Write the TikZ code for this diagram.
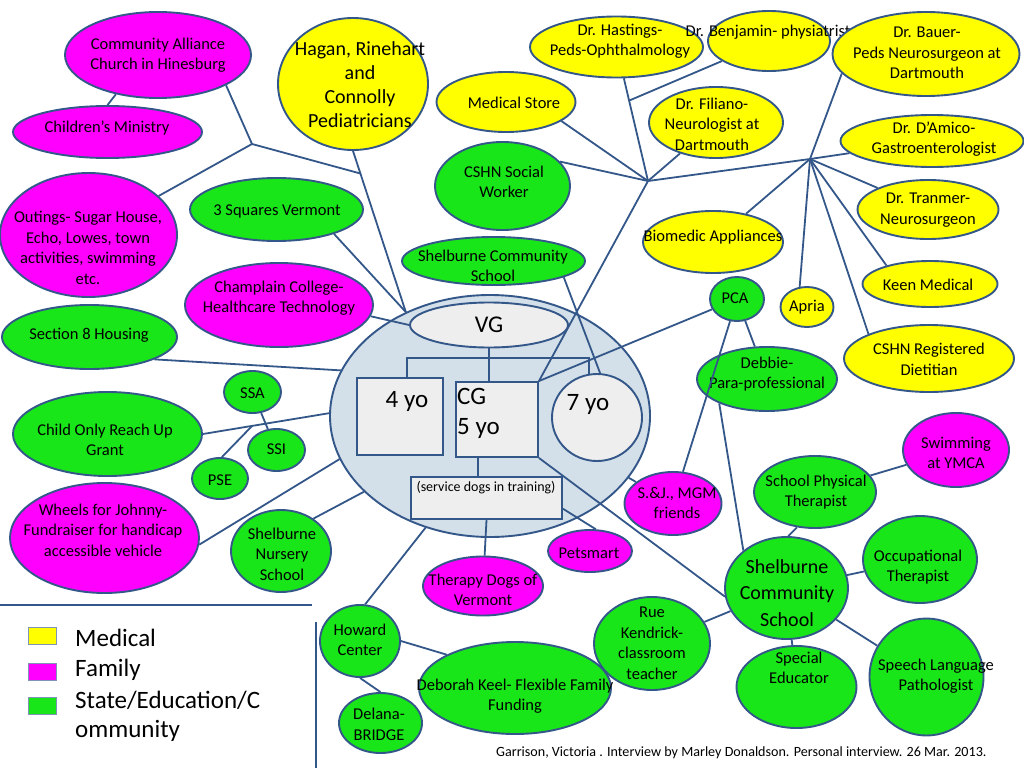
\documentclass[tikz,border=0pt]{standalone}
\usepackage{fontspec}
\setmainfont{Carlito}
\usetikzlibrary{shapes.geometric,calc}
\definecolor{lc}{HTML}{34578A}
\definecolor{yel}{HTML}{FFFF00}
\definecolor{mag}{HTML}{FF00FF}
\definecolor{grn}{HTML}{19E619}
\definecolor{famfill}{HTML}{D3DFE9}
\definecolor{boxfill}{HTML}{EEEEEE}
\definecolor{swb}{HTML}{8095B5}
\newcommand\nf{\fontsize{16.5}{20.5}\selectfont}
\newcommand\bub[9]{%
  \node[bub,fill=#2,minimum width=#5pt,minimum height=#6pt] (#1) at (#3,#4) {};
  \node[txt] (#1t) at (#7,#8) {#9};}
\begin{document}
\begin{tikzpicture}[x=1pt,y=-1pt,
  bub/.style={ellipse,draw=lc,line width=1.9pt,inner sep=0pt},
  txt/.style={inner sep=0pt,align=center,font=\nf},
  box/.style={rectangle,draw=lc,line width=1.9pt,fill=boxfill,inner sep=0pt},
  conn/.style={draw=lc,line width=1.8pt},
  swatch/.style={rectangle,draw=swb,line width=0.8pt,minimum width=28pt,minimum height=17pt,inner sep=0pt},
  lg/.style={inner sep=0pt,anchor=west,align=left,font=\fontsize{25}{31}\selectfont}]
\useasboundingbox (0,0) rectangle (1024,768);
\fill[white] (0,0) rectangle (1024,768);

% family group
\node[bub,fill=famfill,minimum width=320pt,minimum height=242pt] (fam) at (490,416) {};
\node[bub,fill=boxfill,minimum width=158pt,minimum height=45pt] (VG) at (489,325) {};
\node[inner sep=0pt,font=\fontsize{24}{29}\selectfont] (VGt) at (489,325) {VG};
\node[box,minimum width=86pt,minimum height=77pt] (four) at (400,416.5) {};
\node[inner sep=0pt,font=\fontsize{25}{30}\selectfont] (fourt) at (407,401) {4 yo};
\node[box,minimum width=82pt,minimum height=75pt] (CG) at (497,419.5) {};
\node[inner sep=0pt,anchor=west,align=left,font=\fontsize{25}{30}\selectfont] (CGt) at (457,413) {CG\\5 yo};
\node[bub,fill=boxfill,minimum width=90pt,minimum height=87pt] (seven) at (597,417.5) {};
\node[inner sep=0pt,font=\fontsize{25}{30}\selectfont] (sevent) at (588,404) {7 yo};
\node[box,minimum width=151pt,minimum height=42pt] (svc) at (486.5,498) {};
\node[inner sep=0pt,font=\fontsize{14}{17}\selectfont] (svct) at (486,488) {(service dogs in training)};
\coordinate (bar) at (489,358);
\draw[conn] ([xshift=7pt]four.north) |- (bar) -| (seven.100);
\draw[conn] (VG.south) -- (VG.south |- CG.north);
\draw[conn] ([xshift=-19pt]CG.south) -- ([xshift=-19pt]CG.south |- svc.north);

% left side
\bub{church}{mag}{158}{55}{186}{86}{158}{55}{Community Alliance\\Church in Hinesburg}
\bub{cm}{mag}{107.5}{132}{189}{52}{107}{128}{Children's Ministry}
\bub{outings}{mag}{88.5}{235}{177}{124}{88}{248}{Outings- Sugar House,\\Echo, Lowes, town\\activities, swimming\\etc.}
\node[bub,fill=yel,minimum width=150pt,minimum height=132pt] (hagan) at (353,84) {};
\node[txt,font=\fontsize{20}{24}\selectfont] (hagant) at (360,84.5) {Hagan, Rinehart\\and\\Connolly\\Pediatricians};
\bub{sq3}{grn}{276.5}{209.5}{173}{63}{277}{211}{3 Squares Vermont}
\bub{champ}{mag}{279}{305}{188}{84}{279}{298}{Champlain College-\\Healthcare Technology}
\bub{sec8}{grn}{89.5}{337}{175}{64}{89}{335}{Section 8 Housing}
\bub{ssa}{grn}{252.5}{392}{57}{42}{252.5}{393}{SSA}
\bub{ssi}{grn}{276.5}{450}{57}{42}{276.5}{449}{SSI}
\bub{pse}{grn}{220}{478.5}{56}{41}{220}{480}{PSE}
\bub{co}{grn}{107.5}{434}{189}{84}{105}{440}{Child Only Reach Up\\Grant}
\bub{wheels}{mag}{104.5}{538}{189}{110}{103}{530}{Wheels for Johnny-\\Fundraiser for handicap\\accessible vehicle}
\bub{nursery}{grn}{281}{551}{100}{82}{282}{554}{Shelburne\\Nursery\\School}

% top middle / medical
\bub{uscs}{grn}{493.5}{261}{183}{48}{493}{266}{Shelburne Community\\School}
\bub{cshnsw}{grn}{502.5}{186}{135}{88}{504}{182}{CSHN Social\\Worker}
\bub{mstore}{yel}{506}{102}{139}{60}{514}{103}{Medical Store}
\bub{hast}{yel}{616.5}{47}{173}{61}{620}{41}{Dr. Hastings-\\Peds-Ophthalmology}
\bub{benj}{yel}{769}{41}{122}{60}{768}{32}{Dr. Benjamin- physiatrist}
\bub{fil}{yel}{716}{122.5}{134}{71}{712}{124}{Dr. Filiano-\\Neurologist at\\Dartmouth}
\bub{bauer}{yel}{926}{54}{187}{84}{927}{53}{Dr. Bauer-\\Peds Neurosurgeon at\\Dartmouth}
\bub{damico}{yel}{932}{141}{183}{52}{934}{139}{Dr. D'Amico-\\Gastroenterologist}
\bub{tranmer}{yel}{928}{209.5}{141}{59}{928}{210}{Dr. Tranmer-\\Neurosurgeon}
\bub{biomed}{yel}{713}{242}{140}{62}{713}{237}{Biomedic Appliances}
\bub{keen}{yel}{930}{284}{135}{46}{928}{285}{Keen Medical}
\bub{apria}{yel}{807}{307}{53}{40}{807}{307}{Apria}
\bub{diet}{yel}{929}{358.5}{170}{67}{929}{359.5}{CSHN Registered\\Dietitian}

% right / bottom
\bub{pca}{grn}{737}{299}{54}{44}{735}{298}{PCA}
\bub{debbie}{grn}{767}{379}{140}{64}{767}{374}{Debbie-\\Para-professional}
\bub{sj}{mag}{673}{503.5}{97}{63}{677}{503}{S.\&J., MGM\\friends}
\bub{swim}{mag}{956}{450}{106}{74}{956}{453}{Swimming\\at YMCA}
\bub{spt}{grn}{815}{492}{122}{72}{816}{492}{School Physical\\Therapist}
\bub{ot}{grn}{920}{559.5}{114}{87}{918}{567}{Occupational\\Therapist}
\node[bub,fill=grn,minimum width=123pt,minimum height=102pt] (lscs) at (786.5,588) {};
\node[txt,font=\fontsize{20}{26.5}\selectfont] (lscst) at (787,593) {Shelburne\\Community\\School};
\bub{rue}{grn}{652}{643.5}{116}{93}{652}{643.5}{Rue\\Kendrick-\\classroom\\teacher}
\bub{se}{grn}{796.5}{687}{120}{82}{799}{668}{Special\\Educator}
\bub{slp}{grn}{926.5}{677}{114}{117}{936}{676}{Speech Language\\Pathologist}
\bub{petsmart}{mag}{590}{551}{84}{42}{589}{553}{Petsmart}
\bub{therapy}{mag}{483}{586}{120}{59}{483}{590}{Therapy Dogs of\\Vermont}
\bub{howard}{grn}{360}{641}{80}{72}{360}{640}{Howard\\Center}
\bub{delana}{grn}{380.5}{723}{83}{60}{379}{724.5}{Delana-\\BRIDGE}
\bub{deborah}{grn}{515}{688}{192}{92}{515}{696}{Deborah Keel- Flexible Family\\Funding}

% junctions
\coordinate (J1) at (252,144);
\coordinate (J2) at ($(hagan.south)!0.14!(fam.129)$);
\coordinate (Jp) at ($(co.east)!0.39!(fam.179)$);
\coordinate (M1) at (648,181);
\coordinate (M2) at (810,159);
\coordinate (Bj) at ($(hast)!0.4!(M1)$);

% connectors, left
\draw[conn] (church.223) -- (cm.north);
\draw[conn] (church.336) -- (J1);
\draw[conn] (J1) -- (outings);
\draw[conn] (J1) -- (J2);
\draw[conn] (hagan.south) -- (fam.129);
\draw[conn] (sq3.337) -- (fam.129);
\draw[conn] (champ.353) -- (VG.west);
\draw[conn] (sec8.341) -- (fam.163);
\draw[conn] (co.east) -- (fam.179);
\draw[conn] (pse.85) -- (Jp);
\draw[conn] (ssa) -- (ssi);
\draw[conn] (wheels.356) -- (fam.196);
\draw[conn] (nursery.45) -- (fam.211);

% connectors, medical
\draw[conn] (hast) -- (M1);
\draw[conn] (benj) -- (Bj);
\draw[conn] (mstore.341) -- (M1);
\draw[conn] (cshnsw.23) -- (M1);
\draw[conn] (fil) -- (M1);
\draw[conn] (M1) -- (M2);
\draw[conn] (M1) -- (CG.north east);
\draw[conn] (M2) -- (bauer.193);
\draw[conn] (M2) -- (damico);
\draw[conn] (M2) -- (tranmer);
\draw[conn] (M2) -- (keen.157);
\draw[conn] (M2) -- (diet.158);
\draw[conn] (M2) -- (apria.110);
\draw[conn] (M2) -- (biomed);
\draw[conn] (uscs.347) -- (seven.86);

% connectors, right and bottom
\draw[conn] (pca) -- (CG.north east);
\draw[conn] (pca) -- (debbie);
\draw[conn] (pca) -- (sj);
\draw[conn] (debbie.207) -- (lscs.139);
\draw[conn] (CG.south east) -- (lscs.188);
\draw[conn] (fam.336) -- (sj);
\draw[conn] (svc.-8) -- (petsmart.75);
\draw[conn] (svc.south) -- (therapy);
\draw[conn] (fam.240) -- (howard.82);
\draw[conn] (howard.east) -- (deborah.154);
\draw[conn] (howard.south) -- (delana.north);
\draw[conn] (rue) -- (lscs);
\draw[conn] (lscs.88) -- (spt.243);
\draw[conn] (spt) -- (swim);
\draw[conn] (lscs) -- (ot);
\draw[conn] (lscs) -- (se);
\draw[conn] (lscs) -- (slp);

% legend
\coordinate (hl1) at (0,605);
\coordinate (hl2) at (312,605);
\coordinate (vl1) at (316,622);
\coordinate (vl2) at (316,768);
\draw[conn] (hl1) -- (hl2);
\draw[conn] (vl1) -- (vl2);
\node[swatch,fill=yel] (swy) at (42,636) {};
\node[swatch,fill=mag] (swm) at (42,671.5) {};
\node[swatch,fill=grn] (swg) at (42,705.5) {};
\node[lg] (lgm) at (75,638) {Medical};
\node[lg] (lgf) at (75,670) {Family};
\node[lg] (lgs) at (75,700) {State/Education/C};
\node[lg] (lgs2) at (75,731) {ommunity};
\node[inner sep=0pt,anchor=west,font=\fontsize{14.1}{17}\selectfont] (cite) at (496,753) {Garrison, Victoria . Interview by Marley Donaldson. Personal interview. 26 Mar. 2013.};
\end{tikzpicture}
\end{document}
